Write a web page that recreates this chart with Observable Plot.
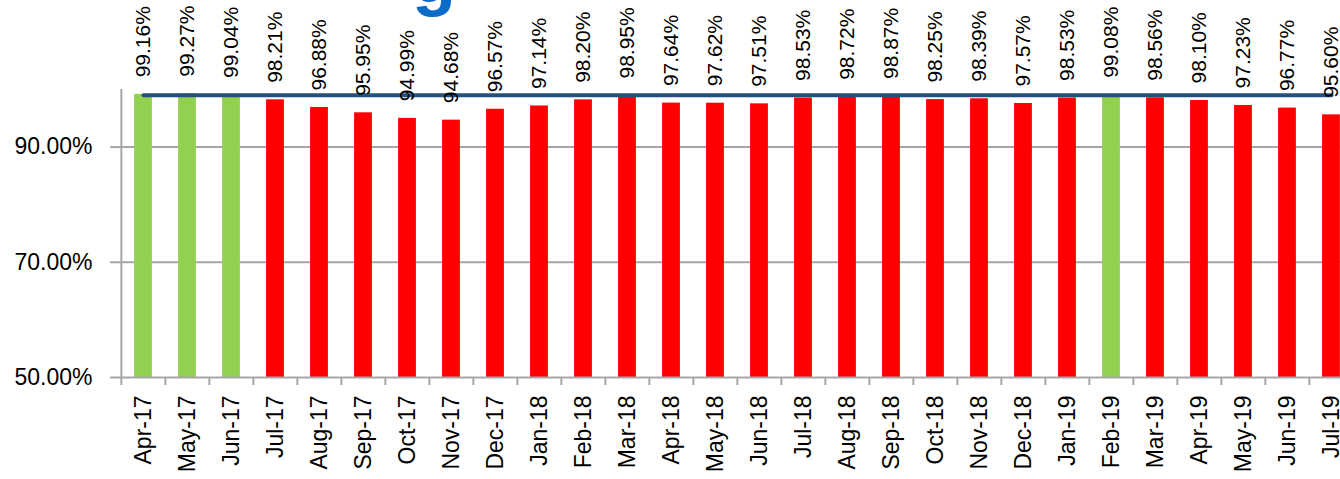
<!DOCTYPE html>
<html>
<head>
<meta charset="utf-8">
<script src="https://cdn.jsdelivr.net/npm/d3@7"></script>
<script src="https://cdn.jsdelivr.net/npm/@observablehq/plot@0.6"></script>
<style>
  html, body { margin: 0; padding: 0; background: #fff; overflow: hidden; width: 1340px; height: 479px; }
  #wrap { position: relative; width: 1340px; height: 479px; overflow: hidden; }
  #title { position: absolute; left: 412px; top: -64px; font: bold 72px "Liberation Sans", Arial, sans-serif; color: #0a6bc8; white-space: nowrap; }
  #chart { position: absolute; left: 0; top: 0; }
</style>
</head>
<body>
<div id="wrap">
  <div id="chart"></div>
  <div id="title">g</div>
</div>
<script>
const months = ["Apr-17","May-17","Jun-17","Jul-17","Aug-17","Sep-17","Oct-17","Nov-17","Dec-17","Jan-18","Feb-18","Mar-18","Apr-18","May-18","Jun-18","Jul-18","Aug-18","Sep-18","Oct-18","Nov-18","Dec-18","Jan-19","Feb-19","Mar-19","Apr-19","May-19","Jun-19","Jul-19"];
const values = [99.16, 99.27, 99.04, 98.21, 96.88, 95.95, 94.99, 94.68, 96.57, 97.14, 98.20, 98.95, 97.64, 97.62, 97.51, 98.53, 98.72, 98.87, 98.25, 98.39, 97.57, 98.53, 99.08, 98.56, 98.10, 97.23, 96.77, 95.60];
const target = 99;
const yTicks = [50, 70, 90];

const data = months.map((m, i) => ({month: m, value: values[i]}));
const targetData = months.map(m => ({month: m, value: target}));

const marginLeft = 117, marginRight = 20;
const plotWidth = 28 * 44.26;
const width = marginLeft + plotWidth + marginRight;
const step = plotWidth / months.length;

const chart = Plot.plot({
  width,
  height: 479,
  marginLeft,
  marginRight,
  marginTop: 89,
  marginBottom: 102,
  style: {fontFamily: "'Liberation Sans', Arial, sans-serif", color: "#000", background: "#fff", overflow: "visible", maxWidth: "none"},
  x: {domain: months, padding: 0, label: null},
  y: {domain: [50, 100], label: null},
  marks: [
    Plot.gridY([70, 90], {stroke: "#a6a6a6", strokeOpacity: 1, strokeWidth: 2}),
    Plot.barY(data, {x: "month", y1: 50, y2: "value", insetLeft: 13.1, insetRight: 13.1,
      fill: d => d.value >= target ? "#92d050" : "#ff0000"}),
    Plot.ruleY([50], {stroke: "#a6a6a6", strokeWidth: 2}),
    Plot.ruleX([months[0]], {x: d => d, y1: 50, y2: 100, dx: -step / 2, stroke: "#a6a6a6", strokeWidth: 2}),
    Plot.axisX({tickSize: 8, tickFormat: () => "", dx: -step / 2, stroke: "#a6a6a6", strokeWidth: 2}),
    Plot.axisX({tickSize: 0, tickPadding: 18, tickRotate: -90, fontSize: 23, fill: "#000"}),
    Plot.axisY({ticks: yTicks, tickSize: 7, tickPadding: 18, tickFormat: d => d.toFixed(2) + "%",
      fontSize: 23, stroke: "#a6a6a6", strokeWidth: 2, fill: "#000"}),
    Plot.lineY(targetData, {x: "month", y: "value", stroke: "#24507f", strokeWidth: 4, strokeLinecap: "round"}),
    Plot.text(data, {x: "month", y: "value", text: d => d.value.toFixed(2) + "%", rotate: -90,
      textAnchor: "start", lineAnchor: "middle", dy: -17, fontSize: 21, fill: "#000"})
  ]
});
document.getElementById("chart").appendChild(chart);
</script>
</body>
</html>
